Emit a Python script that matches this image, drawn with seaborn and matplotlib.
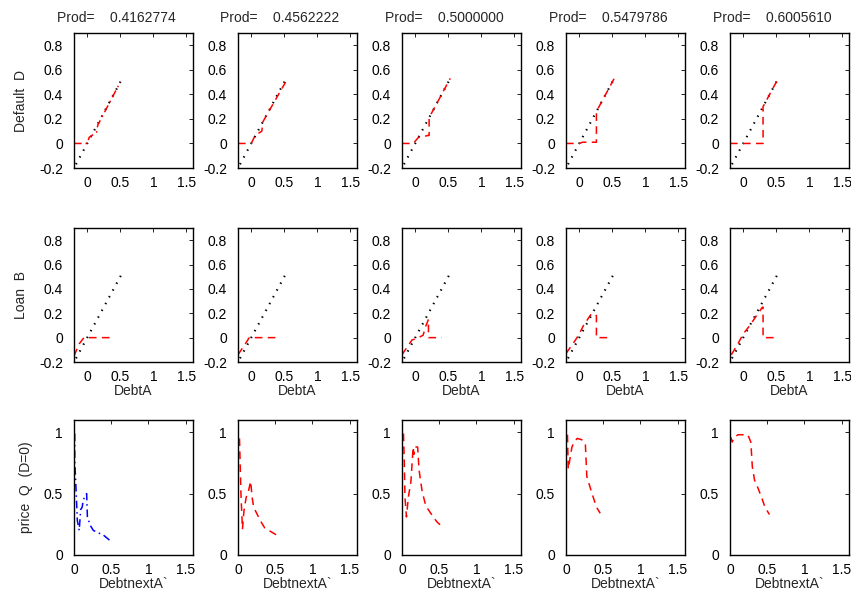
import matplotlib
matplotlib.use("Agg")
import matplotlib.pyplot as plt
import seaborn as sns
import pandas as pd

# ---------------- data ----------------
prods = ["0.4162774", "0.4562222", "0.5000000", "0.5479786", "0.6005610"]

diag_x = [-0.17, 0.52]
diag_y = [-0.17, 0.52]

default_x = [
    [-0.2, 0.0, 0.03, 0.14, 0.16, 0.50],
    [-0.2, 0.0, 0.06, 0.16, 0.18, 0.52],
    [-0.2, -0.03, 0.05, 0.20, 0.21, 0.21, 0.21, 0.53],
    [-0.2, 0.0, 0.05, 0.26, 0.26, 0.28, 0.55],
    [-0.2, 0.30, 0.30, 0.54],
]
default_y = [
    [0.0, 0.0, 0.05, 0.09, 0.15, 0.50],
    [0.0, 0.0, 0.065, 0.10, 0.18, 0.50],
    [0.0, 0.0, 0.05, 0.065, 0.065, 0.14, 0.21, 0.53],
    [0.0, 0.0, 0.01, 0.01, 0.26, 0.28, 0.55],
    [0.0, 0.0, 0.30, 0.54],
]

loan_x = [
    [-0.2, -0.12, -0.05, 0.03, 0.38],
    [-0.2, -0.10, -0.03, 0.40],
    [-0.2, -0.05, 0.05, 0.12, 0.15, 0.20, 0.20, 0.40],
    [-0.2, -0.07, -0.01, 0.065, 0.17, 0.20, 0.26, 0.26, 0.43],
    [-0.18, -0.10, 0.0, 0.10, 0.20, 0.29, 0.30, 0.30, 0.52],
]
loan_y = [
    [-0.15, -0.05, 0.0, 0.0, 0.0],
    [-0.14, -0.06, 0.0, 0.0],
    [-0.14, -0.02, 0.0, 0.02, 0.08, 0.15, 0.0, 0.0],
    [-0.13, -0.03, 0.02, 0.10, 0.185, 0.20, 0.18, 0.0, 0.0],
    [-0.14, -0.07, 0.03, 0.10, 0.18, 0.25, 0.25, 0.0, 0.0],
]

price_x = [
    [0.01, 0.01, 0.03, 0.045, 0.07, 0.09, 0.11, 0.125, 0.17, 0.18, 0.22, 0.26, 0.40, 0.48],
    [0.02, 0.03, 0.04, 0.06, 0.08, 0.11, 0.14, 0.17, 0.19, 0.21, 0.30, 0.36, 0.54],
    [0.02, 0.03, 0.04, 0.06, 0.085, 0.12, 0.15, 0.16, 0.18, 0.21, 0.23, 0.27, 0.32, 0.42, 0.47, 0.54],
    [0.02, 0.03, 0.055, 0.08, 0.11, 0.15, 0.21, 0.26, 0.28, 0.35, 0.41, 0.46],
    [0.01, 0.03, 0.055, 0.11, 0.18, 0.24, 0.28, 0.30, 0.33, 0.38, 0.43, 0.47, 0.53],
]
price_y = [
    [0.99, 0.77, 0.50, 0.28, 0.20, 0.37, 0.39, 0.45, 0.50, 0.31, 0.24, 0.20, 0.16, 0.12],
    [0.95, 0.72, 0.49, 0.21, 0.36, 0.47, 0.52, 0.60, 0.47, 0.39, 0.28, 0.22, 0.155],
    [0.99, 0.77, 0.47, 0.31, 0.47, 0.60, 0.88, 0.82, 0.88, 0.88, 0.69, 0.52, 0.40, 0.31, 0.27, 0.23],
    [0.98, 0.70, 0.79, 0.88, 0.92, 0.95, 0.94, 0.91, 0.64, 0.50, 0.39, 0.34],
    [0.96, 0.92, 0.96, 0.98, 0.98, 0.98, 0.92, 0.72, 0.61, 0.54, 0.46, 0.39, 0.33],
]

# ---------------- style ----------------
sns.set_style("white")
plt.rcParams["font.family"] = ["Liberation Sans", "DejaVu Sans"]
plt.rcParams["font.size"] = 10
plt.rcParams["xtick.direction"] = "in"
plt.rcParams["ytick.direction"] = "in"

W, H = 851, 593
fig = plt.figure(figsize=(W / 100, H / 100), dpi=100)

lefts = [74, 238, 402, 566, 730]
aw = 119
rows = [(33, 168), (228, 362), (420, 555)]

DASH = (0, (5, 3.5))
DASHDOT = (0, (5, 2.5, 1, 2.5))
DOTS = (0, (0.7, 3.0))


def make_ax(col, row):
    top, bot = rows[row]
    ax = fig.add_axes([lefts[col] / W, 1 - bot / H, aw / W, (bot - top) / H])
    for s in ax.spines.values():
        s.set_color("black")
        s.set_linewidth(1.0)
    ax.tick_params(top=True, right=True, length=3, width=0.6, colors="black",
                   labelsize=10)
    ax.tick_params(axis="y", pad=8)
    ax.tick_params(axis="x", pad=6)
    return ax


def line(ax, xs, ys, color, ls, lw=1.1):
    df = pd.DataFrame({"x": xs, "y": ys})
    sns.lineplot(data=df, x="x", y="y", ax=ax, color=color, linestyle=ls,
                 linewidth=lw, sort=False, estimator=None, legend=False)


yt = [-0.2, 0, 0.2, 0.4, 0.6, 0.8]
ytl = ["-0.2", "0", "0.2", "0.4", "0.6", "0.8"]
xt = [0, 0.5, 1, 1.5]
xtl = ["0", "0.5", "1", "1.5"]

for c in range(5):
    # row 1: Default D
    ax = make_ax(c, 0)
    line(ax, diag_x, diag_y, "black", DOTS, lw=1.5)
    line(ax, default_x[c], default_y[c], "red", DASHDOT if c == 0 else DASH)
    ax.set_xlim(-0.2, 1.6)
    ax.set_ylim(-0.2, 0.9)
    ax.set_xticks(xt, xtl)
    ax.set_yticks(yt, ytl)
    ax.set_xlabel("")
    ax.set_ylabel("Default  D" if c == 0 else "", labelpad=8)
    ax.text(0.5 - 17.5 / aw, 1 + 11 / 135, "Prod=    " + prods[c],
            transform=ax.transAxes, ha="center", va="baseline", fontsize=10)

    # row 2: Loan B
    ax = make_ax(c, 1)
    line(ax, diag_x, diag_y, "black", DOTS, lw=1.5)
    line(ax, loan_x[c], loan_y[c], "red", DASH)
    ax.set_xlim(-0.2, 1.6)
    ax.set_ylim(-0.2, 0.9)
    ax.set_xticks(xt, xtl)
    ax.set_yticks(yt, ytl)
    ax.set_xlabel("DebtA", labelpad=0)
    ax.set_ylabel("Loan  B" if c == 0 else "", labelpad=8)

    # row 3: price Q
    ax = make_ax(c, 2)
    line(ax, price_x[c], price_y[c], "blue" if c == 0 else "red",
         DASHDOT if c == 0 else DASH)
    ax.set_xlim(0, 1.6)
    ax.set_ylim(0, 1.1)
    ax.set_xticks(xt, xtl)
    ax.set_yticks([0, 0.5, 1], ["0", "0.5", "1"])
    ax.set_xlabel("DebtnextA`", labelpad=0)
    ax.set_ylabel("price  Q  (D=0)" if c == 0 else "", labelpad=8)

fig.savefig("out.png", dpi=100)
